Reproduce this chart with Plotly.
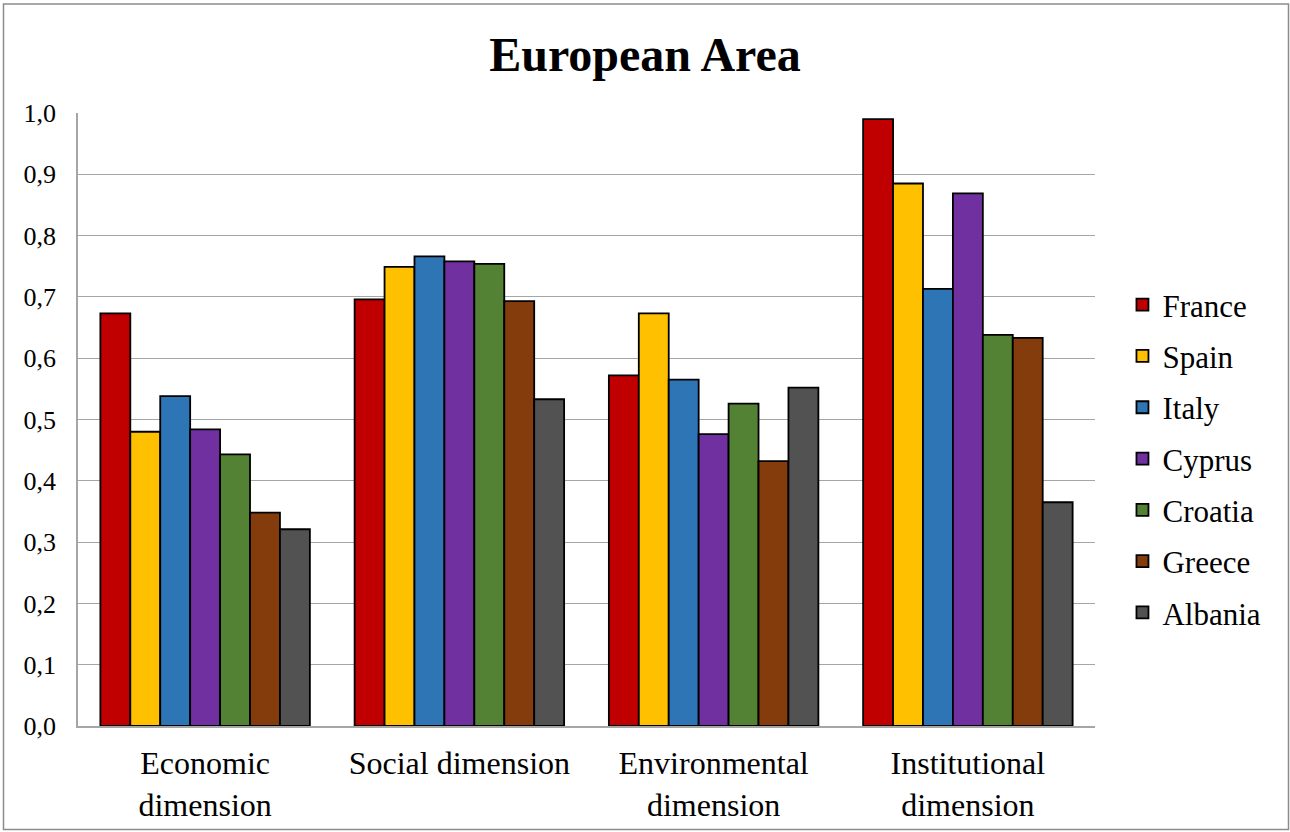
import plotly.graph_objects as go

# Composite index scores per dimension and country
categories = ["Economic<br>dimension", "Social dimension",
              "Environmental<br>dimension", "Institutional<br>dimension"]
countries = ["France", "Spain", "Italy", "Cyprus", "Croatia", "Greece", "Albania"]

france = [0.673, 0.696, 0.572, 0.990]
spain = [0.480, 0.749, 0.673, 0.885]
italy = [0.538, 0.766, 0.565, 0.713]
cyprus = [0.484, 0.758, 0.476, 0.869]
croatia = [0.443, 0.754, 0.526, 0.638]
greece = [0.348, 0.693, 0.432, 0.633]
albania = [0.321, 0.533, 0.552, 0.365]

series = [france, spain, italy, cyprus, croatia, greece, albania]
colors = ["#C00000", "#FFC000", "#2E75B6", "#7030A0", "#548235", "#843C0C", "#525252"]

y_ticks = [i / 10 for i in range(11)]

FONT = "Liberation Serif, Times New Roman, serif"
W, H = 1290, 832
L, R, T, B = 78, 195, 113, 106

fig = go.Figure()
for name, vals, col in zip(countries, series, colors):
    fig.add_trace(go.Bar(
        x=categories, y=vals, name=name, legendgroup=name,
        marker=dict(color=col, line=dict(color="#000000", width=1.8)),
    ))

pw = W - L - R
ph = H - T - B
# outer chart frame, expressed in paper units
x0 = (3.5 - L) / pw
x1 = (W - 1.5 - L) / pw
y0 = -(H - 2.5 - T - ph) / ph
y1 = 1 + (T - 4) / ph

fig.update_layout(
    width=W, height=H,
    margin=dict(l=L, r=R, t=T, b=B, autoexpand=False),
    paper_bgcolor="white", plot_bgcolor="white",
    font=dict(family=FONT, color="#000000"),
    separators=", ",
    barmode="group", bargap=0.176, bargroupgap=0,
    title=dict(text="<b>European Area</b>", x=0.5, xref="container", xanchor="center",
               y=1 - 54 / H, yref="container", yanchor="middle",
               font=dict(family=FONT, size=48, color="#000000")),
    legend=dict(x=1.027, xanchor="left", y=0.4356, yanchor="middle",
                font=dict(family=FONT, size=31), tracegroupgap=8,
                bgcolor="rgba(0,0,0,0)", itemwidth=30),
    showlegend=True,
    shapes=[dict(type="rect", xref="paper", yref="paper", x0=x0, x1=x1, y0=y0, y1=y1,
                 line=dict(color="#8C8C8C", width=1.5), fillcolor="rgba(0,0,0,0)", layer="below")],
)
fig.update_yaxes(range=[0, 1.0], tickvals=y_ticks, tickformat=".1f",
                 showgrid=True, gridcolor="#A6A6A6", gridwidth=1,
                 showline=True, linecolor="#A6A6A6", linewidth=1.5,
                 ticks="", ticklabelstandoff=15, zeroline=False, automargin=False,
                 tickfont=dict(family=FONT, size=26, color="#000000"))
fig.update_xaxes(showline=True, linecolor="#A6A6A6", linewidth=1.5, ticks="",
                 ticklabelstandoff=8, automargin=False,
                 tickfont=dict(family=FONT, size=32, color="#000000"))

fig.write_html("out.html")
